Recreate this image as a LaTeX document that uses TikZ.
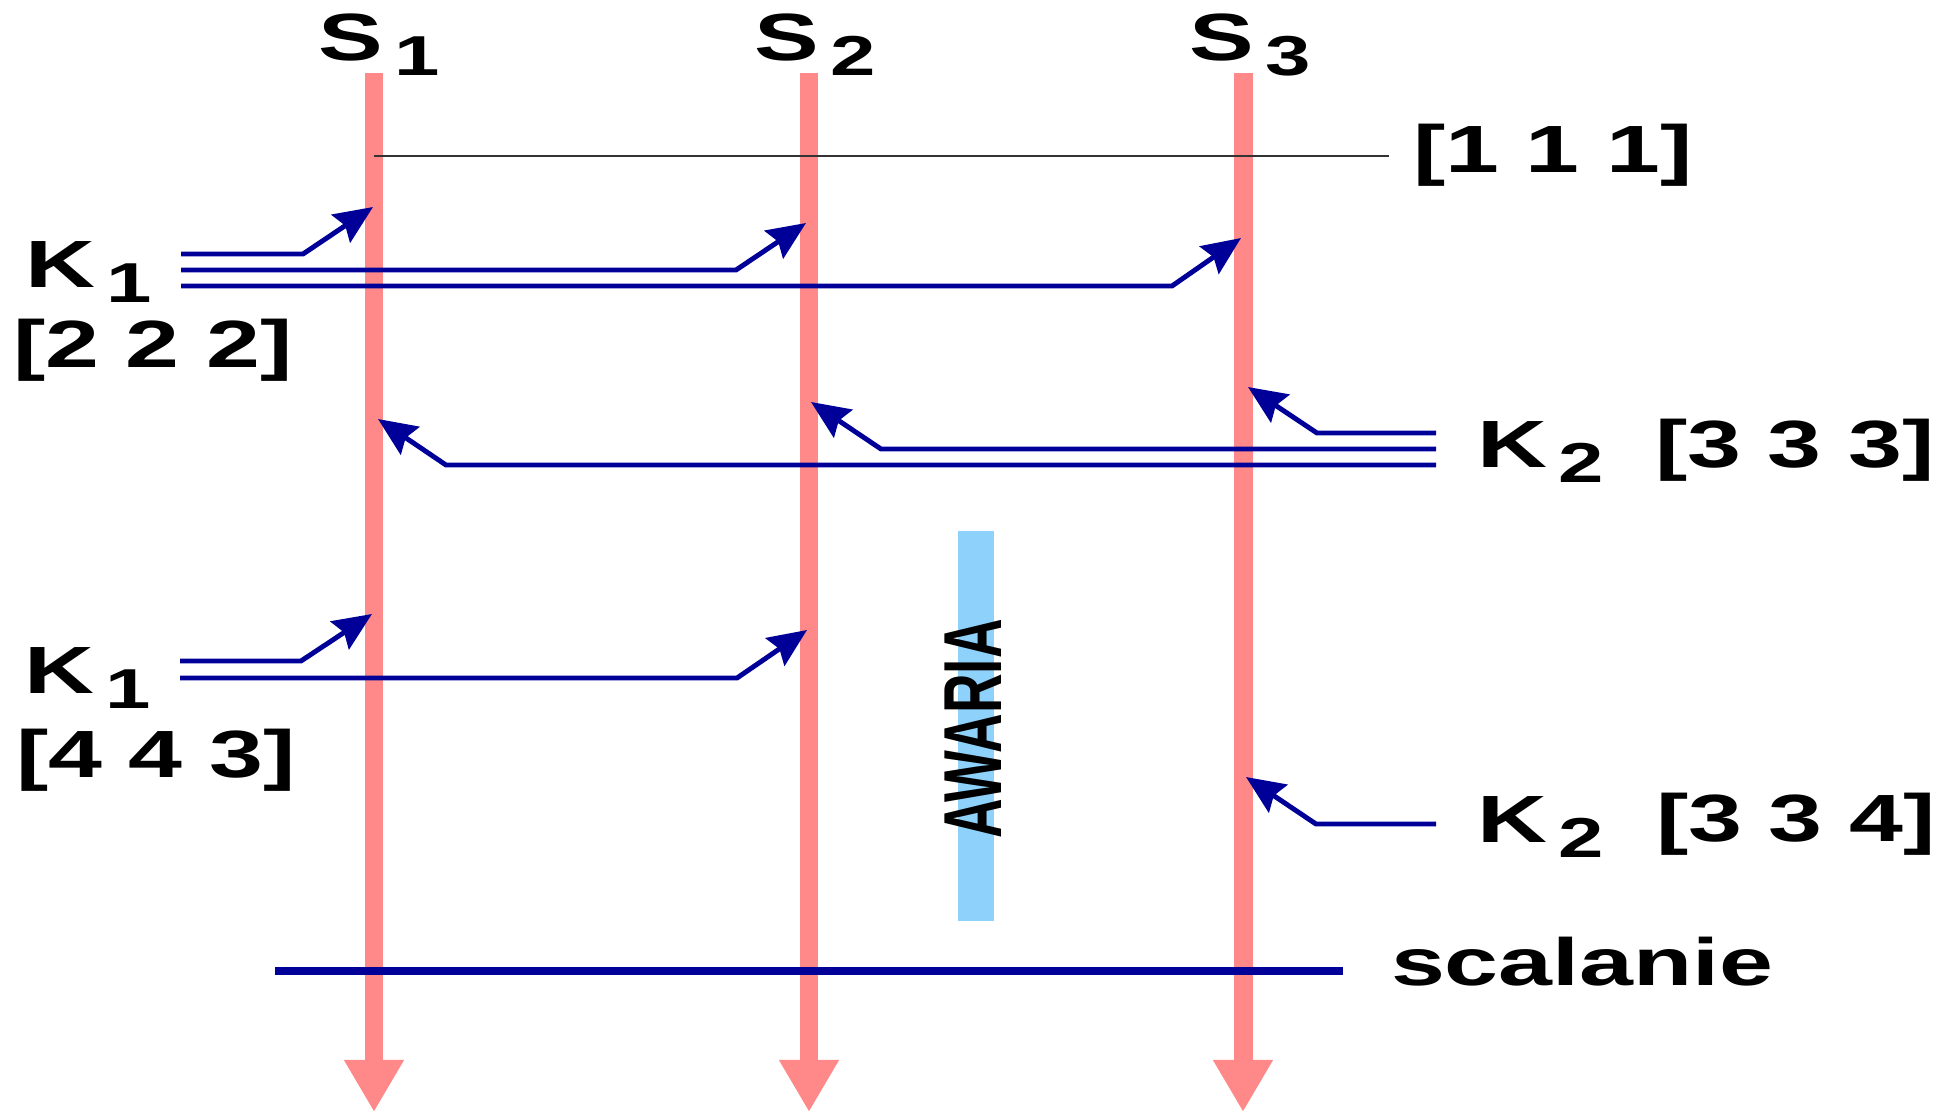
\documentclass[tikz,border=0pt]{standalone}
\usepackage{fontspec}
\setmainfont{Liberation Sans}
\usetikzlibrary{arrows.meta}
\definecolor{procred}{HTML}{FF8888}
\definecolor{msgblue}{HTML}{000099}
\definecolor{failblue}{HTML}{8ED1FB}
\definecolor{cutgray}{HTML}{333333}
\newcommand{\lblfont}{\fontsize{19pt}{21pt}\selectfont\bfseries}
\newcommand{\ix}[1]{\hspace{2.3pt}\raisebox{-4.3pt}{\fontsize{16pt}{17pt}\selectfont #1}}
\tikzset{
  procline/.style={draw=procred, line width=5.4pt, -{Triangle[length=14.8pt,width=16pt]}},
  msg/.style={draw=msgblue, line width=1.4pt, -{Stealth[length=11pt,width=9.5pt,inset=1.5pt]}},
  lbl/.style={font=\lblfont, inner sep=0pt, anchor=base west, xscale=1.45},
  cutline/.style={draw=cutgray, line width=0.5pt},
  mergeline/.style={draw=msgblue, line width=2.3pt}
}
\begin{document}
\begin{tikzpicture}[x=0.01cm, y=-0.01cm]
  \useasboundingbox (0,0) rectangle (1944,1114);
  % procesy S1..S3
  \coordinate (s1t) at (374,73);  \coordinate (s1b) at (374,1112);
  \coordinate (s2t) at (809,73);  \coordinate (s2b) at (809,1112);
  \coordinate (s3t) at (1243,73); \coordinate (s3b) at (1243,1112);
  \draw[procline] (s1t) -- (s1b);
  \draw[procline] (s2t) -- (s2b);
  \draw[procline] (s3t) -- (s3b);
  \node[lbl] (S1) at (317,60) {S\ix{1}};
  \node[lbl] (S2) at (753,60) {S\ix{2}};
  \node[lbl] (S3) at (1188,60) {S\ix{3}};
  % awaria S2
  \fill[failblue] (958,531) rectangle (994,921);
  \node[font=\fontsize{15.6pt}{17pt}\selectfont\bfseries, inner sep=0pt, xscale=1.5, rotate=90] (awaria) at (973,729) {AWARIA};
  % stan poczatkowy
  \node[lbl] (v111) at (1412,172) {[1 1 1]};
  \coordinate (cut) at (374,156);
  \draw[cutline] (cut) -- ([xshift=-0.23cm]cut -| v111.west);
  % K1 -> S1, S2, S3
  \node[lbl] (K1a) at (24,287) {K\ix{1}};
  \node[lbl] (v222) at (12,367) {[2 2 2]};
  \coordinate (k1a) at (181,254); \coordinate (k1b) at (181,270); \coordinate (k1c) at (181,286);
  \coordinate (r11) at (373,207); \coordinate (r12) at (806,223); \coordinate (r13) at (1241,238);
  \draw[msg] (k1a) -- ++(122,0) -- (r11);
  \draw[msg] (k1b) -- ++(555,0) -- (r12);
  \draw[msg] (k1c) -- ++(991,0) -- (r13);
  % K2 -> S3, S2, S1
  \node[lbl] (K2a) at (1476,467) {K\ix{2}};
  \node[lbl] (v333) at (1654,467) {[3 3 3]};
  \coordinate (k2a) at (1436,433); \coordinate (k2b) at (1436,449); \coordinate (k2c) at (1436,465);
  \coordinate (r23) at (1248,387); \coordinate (r22) at (811,402); \coordinate (r21) at (378,419);
  \draw[msg] (k2a) -- ++(-119,0) -- (r23);
  \draw[msg] (k2b) -- ++(-555,0) -- (r22);
  \draw[msg] (k2c) -- ++(-990,0) -- (r21);
  % K1 -> S1, S2
  \node[lbl] (K1b) at (23,693) {K\ix{1}};
  \node[lbl] (v443) at (15,777) {[4 4 3]};
  \coordinate (k1d) at (180,661); \coordinate (k1e) at (180,678);
  \coordinate (r31) at (372,614); \coordinate (r32) at (807,630);
  \draw[msg] (k1d) -- ++(121,0) -- (r31);
  \draw[msg] (k1e) -- ++(557,0) -- (r32);
  % K2 -> S3
  \node[lbl] (K2b) at (1476,842) {K\ix{2}};
  \node[lbl] (v334) at (1655,841) {[3 3 4]};
  \coordinate (k2d) at (1436,824); \coordinate (r43) at (1246,777);
  \draw[msg] (k2d) -- ++(-120,0) -- (r43);
  % scalanie
  \node[lbl] (scal) at (1390,985) {scalanie};
  \coordinate (mergeL) at (275,971);
  \draw[mergeline] (mergeL) -- ([xshift=-0.47cm]mergeL -| scal.west);
\end{tikzpicture}
\end{document}
